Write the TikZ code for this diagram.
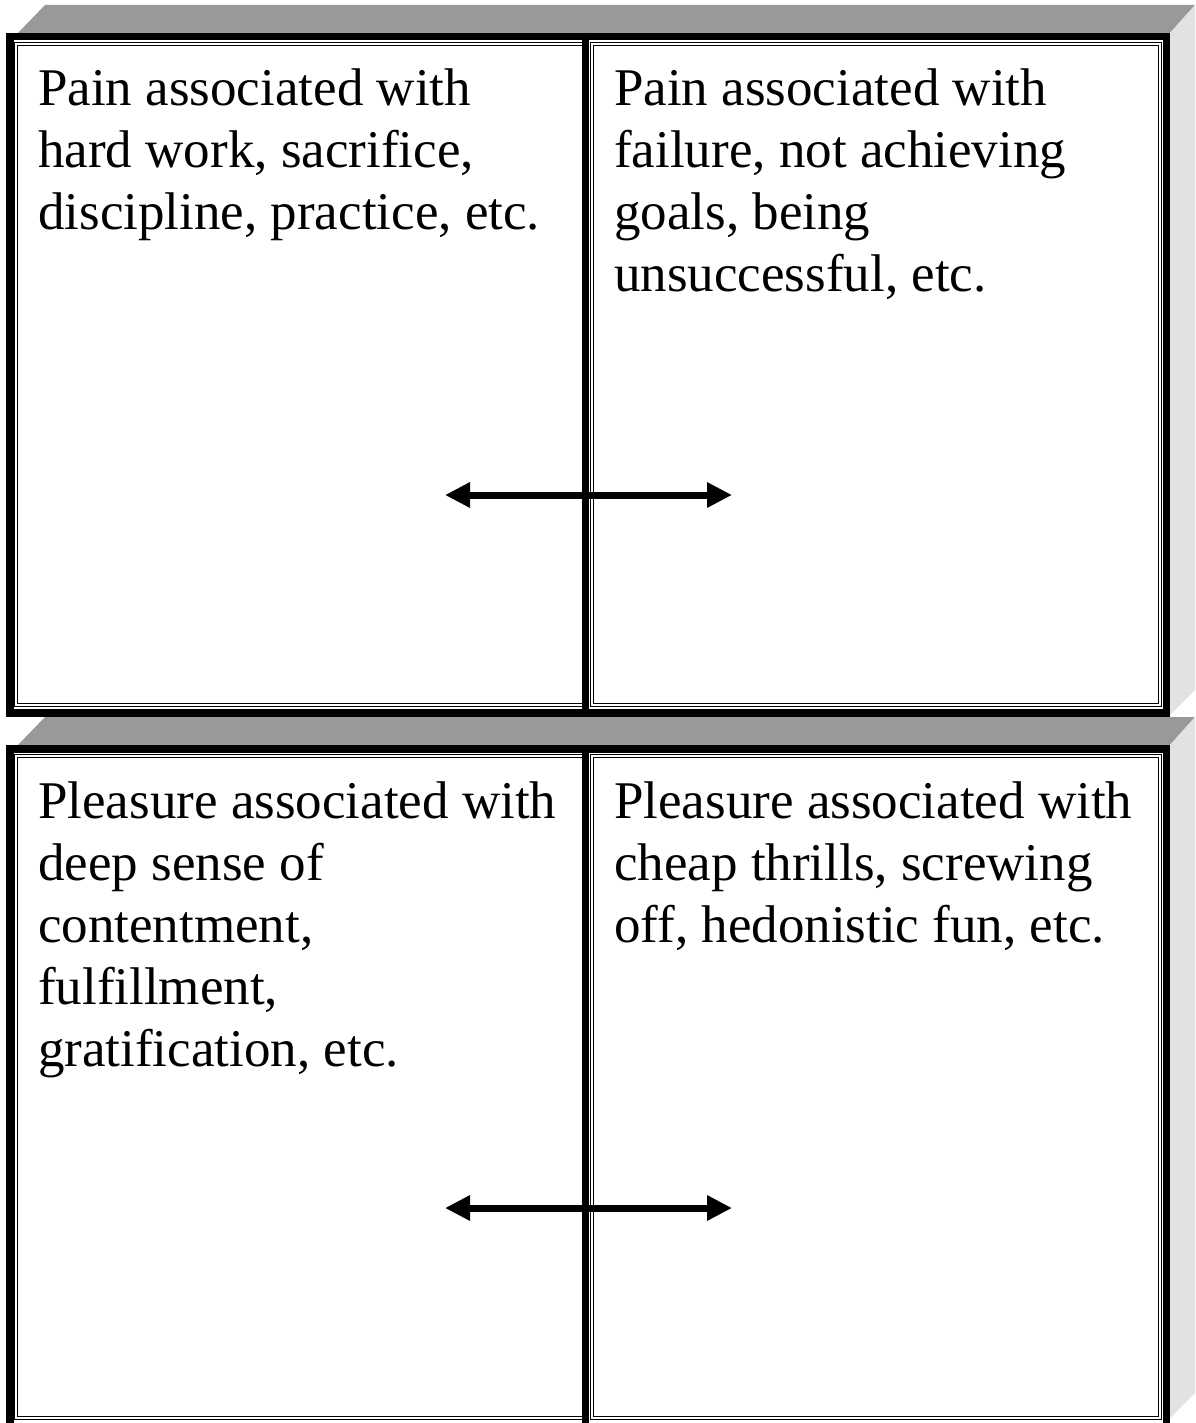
\documentclass[tikz,border=0pt]{standalone}
\usepackage{fontspec}
\setmainfont{Liberation Serif}
\usetikzlibrary{arrows.meta}
\definecolor{bevtop}{RGB}{153,153,153}
\definecolor{bevside}{RGB}{226,226,226}
\begin{document}
\begin{tikzpicture}[x=1pt,y=-1pt,
  topface/.style={fill=bevtop,draw=none},
  sideface/.style={fill=bevside,draw=none},
  frame/.style={draw=black,line width=7.5pt},
  divider/.style={draw=black,line width=7pt},
  cellbox/.style={draw=black,double=white,double distance=1.6pt,line width=1.2pt},
  txt/.style={anchor=base west,inner sep=0pt,font=\fontsize{53}{62}\selectfont},
  link/.style={line width=7pt,{Triangle[length=25pt,width=24pt]}-{Triangle[length=25pt,width=24pt]}}
]
\useasboundingbox (0,0) rectangle (1195,1423);
\clip (0,0) rectangle (1195,1423);
\fill[white] (0,0) rectangle (1195,1423);

% ---------- top block ----------
\fill[topface] (18,33) -- (45,5) -- (1195,5) -- (1170,33) -- cycle;
\fill[sideface] (1170,33) -- (1195,5) -- (1195,690) -- (1170,715) -- cycle;
\draw[cellbox] (16,44) rectangle (585,705);
\draw[cellbox] (592,44) rectangle (1160,705);
\draw[frame] (9.75,36.75) rectangle (1166.25,712.75);
\draw[divider] (585.5,33) -- (585.5,716.5);

\node[txt] (tl) at (38,106) {\begin{tabular}[t]{@{}l@{}}Pain associated with\\hard work, sacrifice,\\discipline, practice, etc.\end{tabular}};
\node[txt] (tr) at (614,106) {\begin{tabular}[t]{@{}l@{}}Pain associated with\\failure, not achieving\\goals, being\\unsuccessful, etc.\end{tabular}};

\coordinate (ta) at (445,495);
\coordinate (tb) at (732,495);
\draw[link] (ta) -- (tb);

% ---------- bottom block ----------
\fill[topface] (18,745) -- (45,717) -- (1195,717) -- (1170,745) -- cycle;
\fill[sideface] (1170,745) -- (1195,717) -- (1195,1393) -- (1170,1418) -- cycle;
\draw[cellbox] (16,756) rectangle (585,1418);
\draw[cellbox] (592,756) rectangle (1160,1418);
\draw[frame] (9.75,748.75) rectangle (1166.25,1428);
\draw[divider] (585.5,745) -- (585.5,1432);

\node[txt] (bl) at (38,818) {\begin{tabular}[t]{@{}l@{}}Pleasure associated with\\deep sense of\\contentment,\\fulfillment,\\gratification, etc.\end{tabular}};
\node[txt] (br) at (614,818) {\begin{tabular}[t]{@{}l@{}}Pleasure associated with\\cheap thrills, screwing\\off, hedonistic fun, etc.\end{tabular}};

\coordinate (ba) at (445,1208);
\coordinate (bb) at (732,1208);
\draw[link] (ba) -- (bb);
\end{tikzpicture}
\end{document}
